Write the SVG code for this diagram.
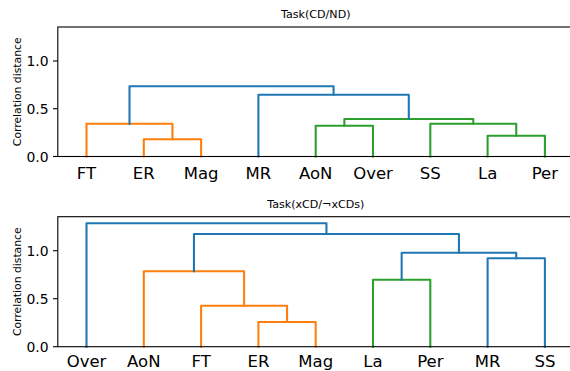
<svg xmlns="http://www.w3.org/2000/svg" width="570" height="371" viewBox="0 0 570 371">
<style>
text{font-family:"DejaVu Sans","Liberation Sans",sans-serif;fill:#000}
.title{font-size:11.1px;text-anchor:middle}
.ylab{font-size:10.8px;text-anchor:middle}
.tick{font-size:13.9px;text-anchor:end}
.leaf{font-size:16.5px;text-anchor:middle}
.spine{fill:none;stroke:#000;stroke-width:1.1}
.tk{stroke:#000;stroke-width:1.1}
.l{fill:none;stroke-width:2.08;stroke-linejoin:round;stroke-linecap:square}
.b{stroke:#1f77b4}.o{stroke:#ff7f0e}.g{stroke:#2ca02c}
</style>
<rect width="570" height="371" fill="#fff"/>
<g id="axes-top">
<text class="title" x="315.8" y="18">Task(CD/ND)</text>
<text class="ylab" transform="translate(20.5,91.8) rotate(-90)">Correlation distance</text>
<line class="tk" x1="53" y1="156.5" x2="57.8" y2="156.5"/>
<line class="tk" x1="53" y1="108.7" x2="57.8" y2="108.7"/>
<line class="tk" x1="53" y1="61" x2="57.8" y2="61"/>
<text class="tick" x="48.5" y="161.5">0.0</text>
<text class="tick" x="48.5" y="113.7">0.5</text>
<text class="tick" x="48.5" y="66">1.0</text>
<text class="leaf" x="86.5" y="179.3">FT</text>
<text class="leaf" x="143.8" y="179.3">ER</text>
<text class="leaf" x="201.1" y="179.3">Mag</text>
<text class="leaf" x="258.4" y="179.3">MR</text>
<text class="leaf" x="315.7" y="179.3">AoN</text>
<text class="leaf" x="373" y="179.3">Over</text>
<text class="leaf" x="430.3" y="179.3">SS</text>
<text class="leaf" x="487.6" y="179.3">La</text>
<text class="leaf" x="544.9" y="179.3">Per</text>
</g>
<g id="links-top">
<polyline class="l o" points="143.8,156.5 143.8,139.3 201.1,139.3 201.1,156.5"/>
<polyline class="l o" points="86.5,156.5 86.5,123.7 172.45,123.7 172.45,139.3"/>
<polyline class="l g" points="315.7,156.5 315.7,125.7 373,125.7 373,156.5"/>
<polyline class="l g" points="487.6,156.5 487.6,135.7 544.9,135.7 544.9,156.5"/>
<polyline class="l g" points="430.3,156.5 430.3,123.7 516.25,123.7 516.25,135.7"/>
<polyline class="l g" points="344.35,125.7 344.35,119 473.3,119 473.3,123.7"/>
<polyline class="l b" points="258.4,156.5 258.4,94.7 408.8,94.7 408.8,119"/>
<polyline class="l b" points="129.5,123.7 129.5,86.3 333.6,86.3 333.6,94.7"/>
</g>
<rect class="spine" x="57.8" y="27" width="516" height="129.5"/>
<g id="axes-bottom">
<text class="title" x="315.8" y="208.3">Task(xCD/¬xCDs)</text>
<text class="ylab" transform="translate(20.5,281.7) rotate(-90)">Correlation distance</text>
<line class="tk" x1="53" y1="346.7" x2="57.8" y2="346.7"/>
<line class="tk" x1="53" y1="298.7" x2="57.8" y2="298.7"/>
<line class="tk" x1="53" y1="250.7" x2="57.8" y2="250.7"/>
<text class="tick" x="48.5" y="351.7">0.0</text>
<text class="tick" x="48.5" y="303.7">0.5</text>
<text class="tick" x="48.5" y="255.7">1.0</text>
<text class="leaf" x="86.5" y="366.8">Over</text>
<text class="leaf" x="143.8" y="366.8">AoN</text>
<text class="leaf" x="201.1" y="366.8">FT</text>
<text class="leaf" x="258.4" y="366.8">ER</text>
<text class="leaf" x="315.7" y="366.8">Mag</text>
<text class="leaf" x="373" y="366.8">La</text>
<text class="leaf" x="430.3" y="366.8">Per</text>
<text class="leaf" x="487.6" y="366.8">MR</text>
<text class="leaf" x="544.9" y="366.8">SS</text>
</g>
<g id="links-bottom">
<polyline class="l o" points="258.4,346.7 258.4,322 315.7,322 315.7,346.7"/>
<polyline class="l o" points="201.1,346.7 201.1,305.7 287.05,305.7 287.05,322"/>
<polyline class="l o" points="143.8,346.7 143.8,271.3 244.1,271.3 244.1,305.7"/>
<polyline class="l g" points="373,346.7 373,279.7 430.3,279.7 430.3,346.7"/>
<polyline class="l b" points="487.6,346.7 487.6,258.3 544.9,258.3 544.9,346.7"/>
<polyline class="l b" points="401.65,279.7 401.65,252.7 516.25,252.7 516.25,258.3"/>
<polyline class="l b" points="193.95,271.3 193.95,234 458.95,234 458.95,252.7"/>
<polyline class="l b" points="86.5,346.7 86.5,223.3 326.45,223.3 326.45,234"/>
</g>
<rect class="spine" x="57.8" y="216.7" width="516" height="130"/>
</svg>
